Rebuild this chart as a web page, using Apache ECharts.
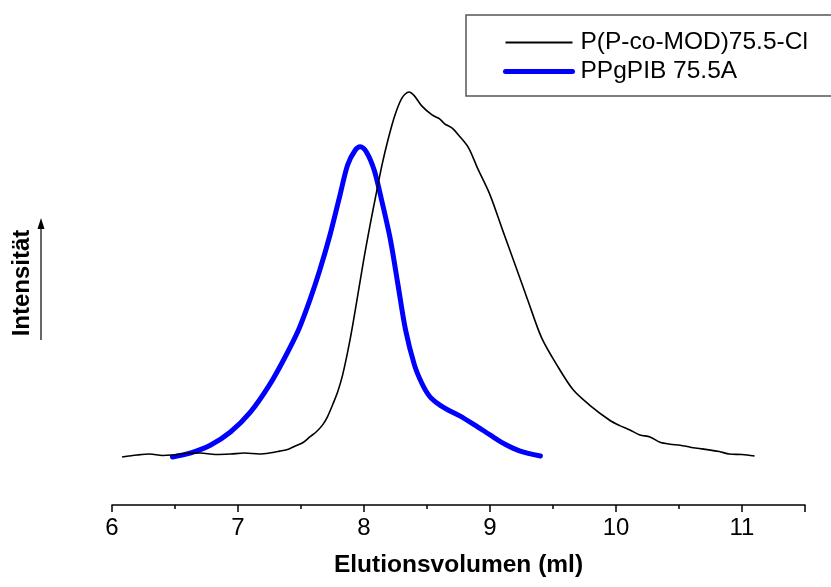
<!DOCTYPE html>
<html>
<head>
<meta charset="utf-8">
<script src="https://cdn.jsdelivr.net/npm/echarts@6/dist/echarts.min.js"></script>
<style>
  html, body { margin: 0; padding: 0; background: #fff; }
  #chart { width: 831px; height: 587px; }
</style>
</head>
<body>
<div id="chart"></div>
<script>
// Elution volume (ml) and relative intensity for the two GPC traces
const precursorVolume = [6.08, 6.20, 6.30, 6.40, 6.48, 6.58, 6.70, 6.82, 6.94, 7.05, 7.17, 7.25, 7.33, 7.40, 7.45, 7.52, 7.57, 7.62, 7.67, 7.71, 7.75, 7.79, 7.83, 7.889, 7.944, 8.00, 8.048, 8.095, 8.143, 8.19, 8.246, 8.302, 8.357, 8.40, 8.46, 8.54, 8.60, 8.64, 8.70, 8.75, 8.83, 8.90, 9.00, 9.10, 9.20, 9.30, 9.41, 9.53, 9.66, 9.79, 9.95, 10.03, 10.11, 10.19, 10.27, 10.35, 10.43, 10.51, 10.59, 10.67, 10.75, 10.82, 10.90, 11.00, 11.10];
const precursorIntensity = [9.8, 10.2, 10.4, 10.1, 10.2, 10.5, 10.6, 10.3, 10.4, 10.6, 10.4, 10.6, 11.0, 11.4, 12.0, 12.8, 13.9, 14.9, 16.3, 18.0, 20.4, 23.0, 26.5, 33.7, 41.8, 50.4, 57.1, 63.3, 69.4, 74.5, 79.6, 83.1, 84.3, 83.5, 81.4, 79.6, 78.8, 77.8, 76.9, 75.5, 72.9, 68.8, 63.3, 56.1, 49.0, 41.8, 34.1, 28.6, 23.5, 20.4, 17.3, 16.2, 15.3, 14.3, 13.9, 12.8, 12.4, 12.2, 11.8, 11.5, 11.2, 10.9, 10.4, 10.3, 10.0];

const graftVolume = [6.48, 6.62, 6.78, 6.94, 7.10, 7.25, 7.37, 7.48, 7.57, 7.65, 7.73, 7.81, 7.87, 7.93, 7.97, 8.02, 8.08, 8.14, 8.21, 8.27, 8.33, 8.40, 8.46, 8.52, 8.59, 8.66, 8.76, 8.88, 9.00, 9.12, 9.24, 9.40];
const graftIntensity = [9.8, 10.6, 12.2, 14.9, 19.0, 24.5, 30.0, 35.7, 41.8, 48.0, 55.1, 63.3, 69.4, 72.4, 73.1, 72.0, 68.4, 62.2, 54.1, 44.9, 35.7, 28.6, 24.8, 22.2, 20.6, 19.5, 18.2, 16.3, 14.3, 12.4, 11.0, 10.0];

const seriesNames = ['P(P-co-MOD)75.5-Cl', 'PPgPIB 75.5A'];
const xTicks = [6, 7, 8, 9, 10, 11];

const pairs = (xs, ys) => xs.map((x, i) => [x, ys[i]]);

const chart = echarts.init(document.getElementById('chart'), null, { renderer: 'canvas' });

chart.setOption({
  animation: false,
  backgroundColor: '#ffffff',
  textStyle: { fontFamily: 'Arial, "Liberation Sans", sans-serif' },
  grid: { left: 112, right: 26, top: 15, bottom: 82 },
  xAxis: {
    type: 'value',
    min: 6,
    max: 11.5,
    interval: 1,
    name: 'Elutionsvolumen (ml)',
    nameLocation: 'middle',
    nameGap: 48,
    nameTextStyle: { fontSize: 24.5, fontWeight: 'bold', color: '#000' },
    axisLine: { show: true, lineStyle: { color: '#000', width: 1.5 } },
    axisTick: { show: true, length: 7, lineStyle: { color: '#000', width: 1.5 } },
    minorTick: { show: true, splitNumber: 2, length: 4, lineStyle: { color: '#000', width: 1.5 } },
    axisLabel: {
      fontSize: 24,
      color: '#000',
      margin: 11,
      formatter: v => (xTicks.includes(v) ? String(v) : '')
    },
    splitLine: { show: false }
  },
  yAxis: {
    type: 'value',
    min: 0,
    max: 100,
    show: false
  },
  legend: {
    orient: 'vertical',
    left: 466,
    top: 15,
    padding: [15, 26, 12, 37],
    itemGap: 4,
    itemWidth: 67,
    itemHeight: 14,
    borderColor: '#555',
    borderWidth: 1.5,
    textStyle: { fontSize: 24.5, color: '#000', padding: [0, 0, 0, 3] },
    itemStyle: { opacity: 0 },
    data: [
      { name: seriesNames[0], lineStyle: { width: 2, color: '#000' } },
      { name: seriesNames[1], lineStyle: { width: 5, color: '#0000ff', cap: 'round' } }
    ]
  },
  graphic: [
    {
      type: 'text',
      x: 22,
      y: 283,
      rotation: Math.PI / 2,
      style: {
        text: 'Intensität',
        font: 'bold 24px Arial, "Liberation Sans", sans-serif',
        fill: '#000',
        align: 'center',
        verticalAlign: 'middle'
      }
    },
    {
      type: 'line',
      shape: { x1: 41, y1: 340, x2: 41, y2: 226 },
      style: { stroke: '#000', lineWidth: 1.2 }
    },
    {
      type: 'polygon',
      shape: { points: [[41, 218], [37.5, 229], [44.5, 229]] },
      style: { fill: '#000' }
    }
  ],
  series: [
    {
      name: seriesNames[0],
      type: 'line',
      data: pairs(precursorVolume, precursorIntensity),
      showSymbol: false,
      symbol: 'none',
      smooth: 0.3,
      lineStyle: { color: '#000', width: 1.6 },
      itemStyle: { color: '#000' },
      z: 3
    },
    {
      name: seriesNames[1],
      type: 'line',
      data: pairs(graftVolume, graftIntensity),
      showSymbol: false,
      symbol: 'none',
      smooth: 0.3,
      lineStyle: { color: '#0000ff', width: 5, cap: 'round' },
      itemStyle: { color: '#0000ff' },
      z: 2
    }
  ]
});
</script>
</body>
</html>
